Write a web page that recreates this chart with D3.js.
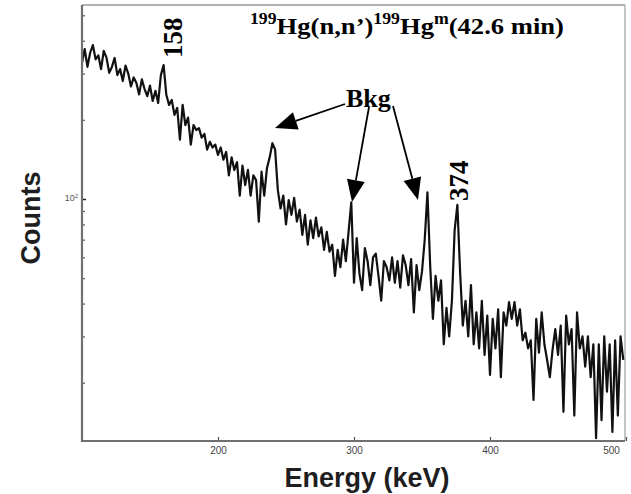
<!DOCTYPE html>
<html>
<head>
<meta charset="utf-8">
<script src="https://cdn.jsdelivr.net/npm/d3@7"></script>
<style>
  html, body { margin: 0; padding: 0; background: #fff; }
  svg { display: block; }
</style>
</head>
<body>
<svg id="chart" width="631" height="494"></svg>
<script>
// Gamma spectrum: channel energies (keV) and counts per channel
const energy = [
  100,102,104,106,108,110,112,114,116,118,120,122,124,126,128,130,132,134,136,138,
  140,142,144,146,148,150,152,154,156,158,160,162,164,166,168,170,172,174,176,178,
  180,182,184,186,188,190,192,194,196,198,200,202,204,206,208,210,212,214,216,218,
  220,222,224,226,228,230,232,234,236,238,240,242,244,246,248,250,252,254,256,258,
  260,262,264,266,268,270,272,274,276,278,280,282,284,286,288,290,292,294,296,298,
  300,302,304,306,308,310,312,314,316,318,320,322,324,326,328,330,332,334,336,338,
  340,342,344,346,348,350,352,354,356,358,360,362,364,366,368,370,372,374,376,378,
  380,382,384,386,388,390,392,394,396,398,400,402,404,406,408,410,412,414,416,418,
  420,422,424,426,428,430,432,434,436,438,440,442,444,446,448,450,452,454,456,458,
  460,462,464,466,468,470,472,474,476,478,480,482,484,486,488,490,492,494,496,498
];
const counts = [
  330,372,318,360,385,340,352,312,366,345,302,318,344,296,312,281,322,300,268,290,
  276,250,285,262,246,270,236,258,232,296,323,249,228,238,209,222,168,228,191,204,
  161,191,183,186,171,177,154,165,157,161,147,157,141,151,123,144,129,138,103,134,
  113,129,103,123,118,82,127,103,131,144,163,154,108,92,103,80,99,87,101,82,
  91,73,87,67,83,71,85,72,78,64,75,63,67,51,64,55,70,58,75,97,
  48,71,52,45,65,58,47,60,62,51,41,58,55,49,60,48,58,46,61,56,
  47,59,37,56,45,53,70,106,56,35,51,41,49,28,38.5,30,41,76,95,53,
  33,41,30,47,28,37,27,41,25.5,36,21.4,35,27,38,21,37,33,40.5,35,40.5,
  33,38,29,31,27,29,17.2,35,26,37,28,24.4,21,26.7,32,25.5,33,15.5,36,28,
  32,15,37,27,30,23,30,21,28,12.3,28,14.4,30,18.5,28,13,29,15,30,24.4
];

// Axis ticks
const xTicks = [200, 300, 400, 500];
const yMajorTicks = [100];
const yMinorTicks = [20, 30, 40, 50, 60, 70, 80, 90, 200, 300, 400, 500];

// Peak labels and annotation text
const peakLabels = ["158", "374"];
const bkgLabel = "Bkg";

const svg = d3.select("#chart");
const plotL = 82, plotR = 626, plotT = 5, plotB = 441;

const x = d3.scaleLinear().domain([100, 500]).range([plotL, plotR]);
const y = d3.scaleLog().domain([12, 547]).range([plotB, plotT]);

svg.append("defs").append("clipPath").attr("id", "plotClip")
  .append("rect").attr("x", plotL).attr("y", plotT)
  .attr("width", 625 - plotL).attr("height", plotB - plotT);

// Frame: light top/right borders
svg.append("line").attr("x1", plotL).attr("x2", 625).attr("y1", plotT).attr("y2", plotT)
  .attr("stroke", "#b0b0b0").attr("stroke-width", 2);
svg.append("line").attr("x1", 625).attr("x2", 625).attr("y1", plotT).attr("y2", plotB)
  .attr("stroke", "#b0b0b0").attr("stroke-width", 1.5);

// Spectrum
const line = d3.line()
  .x((d, i) => x(energy[i]))
  .y(d => y(d));

svg.append("path")
  .datum(counts)
  .attr("clip-path", "url(#plotClip)")
  .attr("fill", "none")
  .attr("stroke", "#111")
  .attr("stroke-width", 2.2)
  .attr("stroke-linejoin", "round")
  .attr("d", line);

// Bottom axis
const xAxis = svg.append("g").attr("transform", `translate(0,${plotB})`)
  .call(d3.axisTop(x).tickValues(xTicks).tickSize(4).tickFormat(d3.format("d")));
xAxis.select(".domain").remove();
xAxis.selectAll(".tick line").attr("stroke", "#555").attr("stroke-width", 1.2);
xAxis.selectAll(".tick text")
  .attr("y", 13).attr("dy", 0)
  .attr("font-family", "Liberation Sans, Arial, sans-serif")
  .attr("font-size", 10).attr("fill", "#444");
xAxis.selectAll(".tick text").filter(d => d === 500).attr("dx", -15);

svg.append("line").attr("x1", plotL).attr("x2", 625).attr("y1", plotB).attr("y2", plotB)
  .attr("stroke", "#707070").attr("stroke-width", 2);

// Left axis: log ticks, only the decade labelled
const yAxisMinor = svg.append("g").attr("transform", `translate(${plotL},0)`)
  .call(d3.axisRight(y).tickValues(yMinorTicks).tickSize(3).tickFormat(""));
yAxisMinor.select(".domain").remove();
yAxisMinor.selectAll(".tick line").attr("stroke", "#666").attr("stroke-width", 1.3);

const yAxisMajor = svg.append("g").attr("transform", `translate(${plotL},0)`)
  .call(d3.axisRight(y).tickValues(yMajorTicks).tickSize(4).tickFormat(() => ""));
yAxisMajor.select(".domain").remove();
yAxisMajor.selectAll(".tick line").attr("stroke", "#222").attr("stroke-width", 1.5);
yAxisMajor.selectAll(".tick").each(function() {
  const t = d3.select(this).append("text")
    .attr("x", -4).attr("y", 2)
    .attr("text-anchor", "end")
    .attr("font-family", "Liberation Sans, Arial, sans-serif")
    .attr("font-size", 9).attr("fill", "#555");
  t.append("tspan").text("10");
  t.append("tspan").attr("font-size", 6).attr("dy", -3).text("2");
});

svg.append("line").attr("x1", plotL).attr("x2", plotL).attr("y1", plotT).attr("y2", plotB + 1)
  .attr("stroke", "#707070").attr("stroke-width", 2.2);

// Axis titles
svg.append("text")
  .attr("x", 367).attr("y", 487)
  .attr("text-anchor", "middle")
  .attr("font-family", "Liberation Sans, Arial, sans-serif")
  .attr("font-weight", "bold").attr("font-size", 27).attr("fill", "#1e1e1e")
  .text("Energy (keV)");

svg.append("text")
  .attr("transform", "translate(40,218) rotate(-90)")
  .attr("text-anchor", "middle")
  .attr("font-family", "Liberation Sans, Arial, sans-serif")
  .attr("font-weight", "bold").attr("font-size", 27).attr("fill", "#1e1e1e")
  .text("Counts");

// Reaction title with superscripts, stretched to its span above the plot
const serif = "Liberation Serif, Times New Roman, serif";
const title = svg.append("text")
  .attr("x", 0).attr("y", 0)
  .attr("font-family", serif).attr("font-weight", "bold")
  .attr("font-size", 24).attr("fill", "#000");
const titleParts = [
  ["199", true], ["Hg(n,n\u2019)", false], ["199", true], ["Hg", false], ["m", true], ["(42.6 min)", false]
];
let raised = false;
titleParts.forEach(([s, sup]) => {
  const ts = title.append("tspan").text(s);
  if (sup) { ts.attr("font-size", 16); if (!raised) ts.attr("dy", -10); raised = true; }
  else { if (raised) ts.attr("dy", 10); raised = false; }
});
const titleW = title.node().getComputedTextLength();
title.attr("transform", `translate(250,34) scale(${314 / titleW},1)`);

// Peak energy labels (rotated)
const peakSpec = [
  { label: peakLabels[0], bx: 182, by: 58 },
  { label: peakLabels[1], bx: 468, by: 201 }
];
peakSpec.forEach(p => {
  svg.append("text")
    .attr("transform", `translate(${p.bx},${p.by}) rotate(-90)`)
    .attr("font-family", serif).attr("font-weight", "bold")
    .attr("font-size", 27).attr("fill", "#000")
    .text(p.label);
});

// Background annotation with arrows
svg.append("text")
  .attr("x", 346).attr("y", 107)
  .attr("font-family", serif).attr("font-weight", "bold")
  .attr("font-size", 26).attr("fill", "#000")
  .text(bkgLabel);

const arrows = [
  { from: [345, 104], to: [275, 128] },
  { from: [369, 107], to: [352, 202] },
  { from: [393, 106], to: [418, 200] }
];
arrows.forEach(a => {
  const [x1, y1] = a.from, [x2, y2] = a.to;
  const len = Math.hypot(x1 - x2, y1 - y2);
  const ux = (x1 - x2) / len, uy = (y1 - y2) / len;
  const hl = 22, hw = 9;
  const bx = x2 + ux * hl, by = y2 + uy * hl;
  svg.append("line")
    .attr("x1", x1).attr("y1", y1).attr("x2", bx).attr("y2", by)
    .attr("stroke", "#000").attr("stroke-width", 1.8);
  svg.append("polygon")
    .attr("points", [[x2, y2], [bx - uy * hw, by + ux * hw], [bx + uy * hw, by - ux * hw]].map(p => p.join(",")).join(" "))
    .attr("fill", "#000");
});
</script>
</body>
</html>
